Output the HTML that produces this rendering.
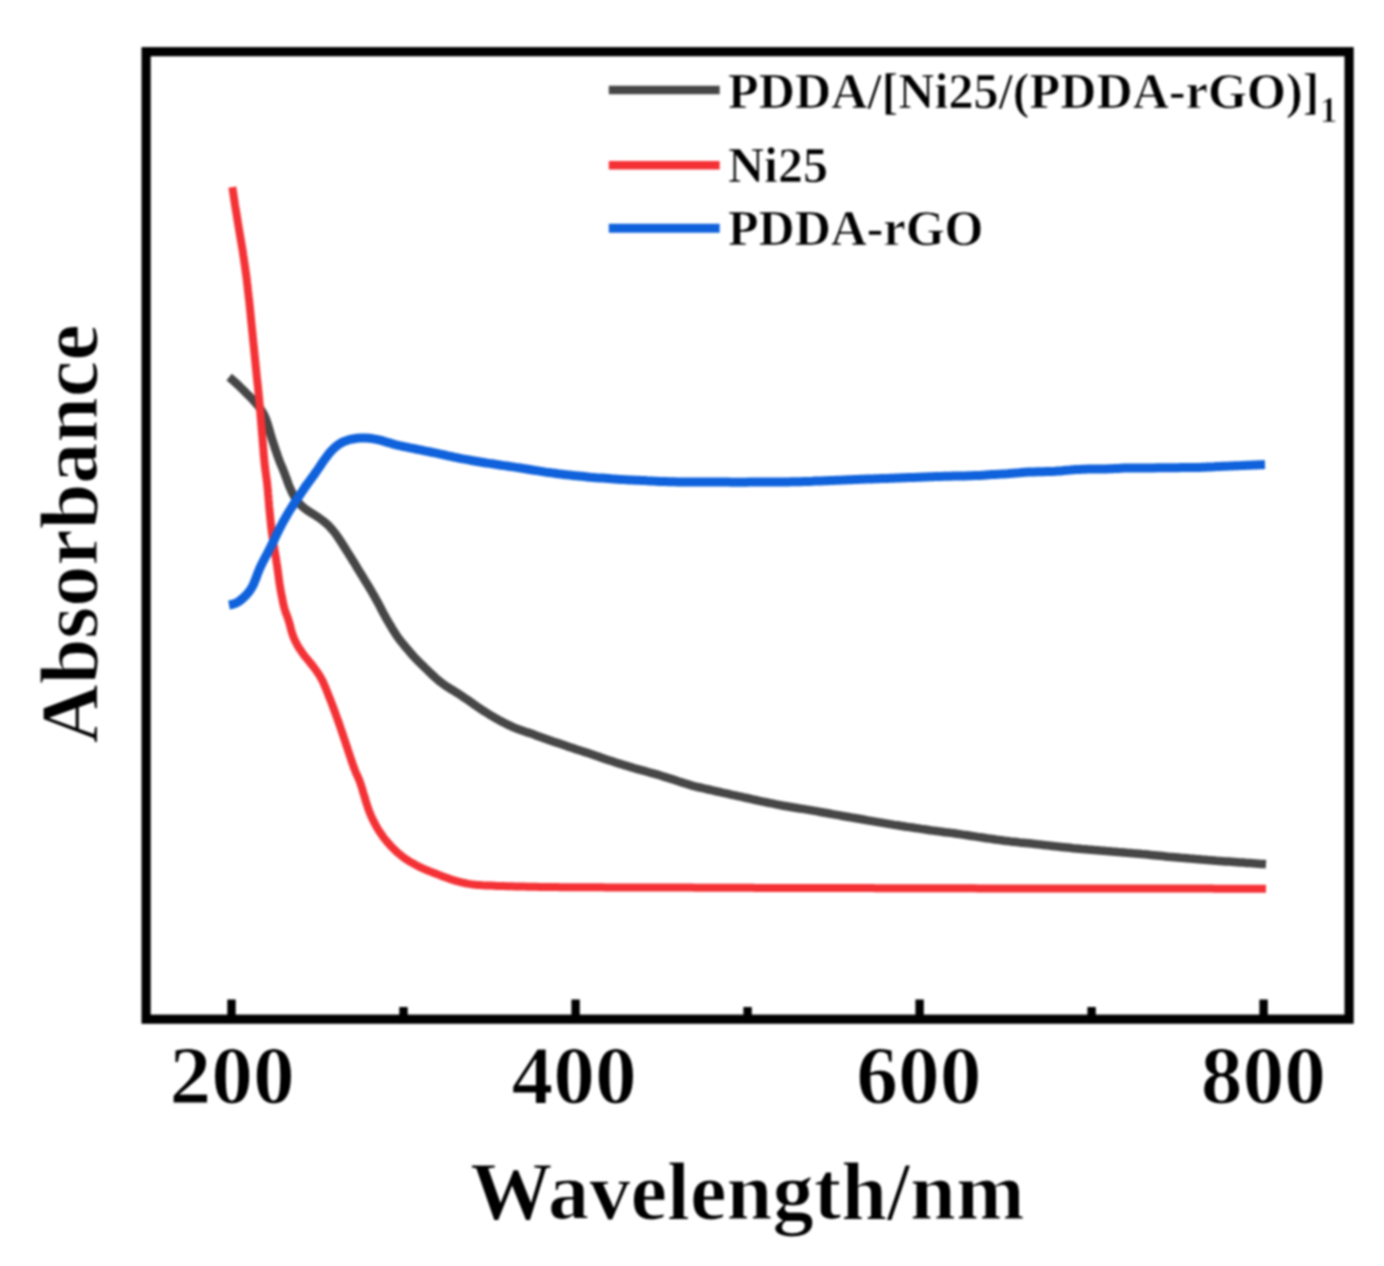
<!DOCTYPE html>
<html><head><meta charset="utf-8"><title>Absorbance vs Wavelength</title><style>
html,body{margin:0;padding:0;background:#fff;width:1384px;height:1266px;overflow:hidden}
svg{display:block}
.t{font-family:"Liberation Serif", serif;font-weight:bold;font-size:83.5px;fill:#000;stroke:#fff;stroke-width:1.2px}
.l{font-family:"Liberation Serif", serif;font-weight:bold;font-size:50px;fill:#000;stroke:#fff;stroke-width:0.72px}
</style></head><body>
<svg width="1384" height="1266" viewBox="0 0 1384 1266">
<defs><filter id="b" x="0" y="0" width="1" height="1" color-interpolation-filters="sRGB"><feGaussianBlur stdDeviation="0.8"/></filter></defs>
<rect x="0" y="0" width="1384" height="1266" fill="#fff"/>
<g filter="url(#b)">
<rect x="0" y="0" width="1384" height="1266" fill="#fff"/>
<g fill="none" stroke-linecap="butt" stroke-linejoin="round">
<path d="M229.1,377.1 L231.4,379.0 L233.7,381.0 L235.9,383.0 L238.1,385.0 L240.2,387.1 L242.4,389.2 L244.5,391.3 L246.6,393.5 L248.8,395.6 L250.9,397.7 L252.9,399.9 L254.9,402.1 L256.9,404.4 L258.8,406.7 L260.6,409.1 L262.2,411.6 L263.7,414.2 L265.0,416.9 L266.1,419.6 L267.1,422.5 L268.0,425.3 L268.9,428.2 L269.7,431.1 L270.5,434.0 L271.4,436.8 L272.2,439.7 L273.2,442.6 L274.1,445.4 L275.0,448.3 L276.0,451.1 L277.0,454.0 L277.9,456.8 L279.0,459.6 L280.0,462.4 L281.2,465.2 L282.4,467.9 L283.5,470.7 L284.6,473.5 L285.6,476.3 L286.7,479.1 L287.7,482.0 L288.7,484.8 L289.9,487.6 L291.1,490.3 L292.3,493.0 L293.7,495.6 L295.3,498.2 L297.0,500.6 L298.8,503.0 L300.9,505.1 L303.1,507.2 L305.4,509.0 L307.8,510.7 L310.3,512.3 L312.9,513.9 L315.4,515.5 L317.9,517.1 L320.4,518.9 L322.8,520.6 L325.1,522.5 L327.4,524.5 L329.5,526.6 L331.5,528.8 L333.4,531.1 L335.3,533.4 L337.0,535.9 L338.7,538.3 L340.4,540.9 L342.0,543.4 L343.6,545.9 L345.2,548.4 L346.8,551.0 L348.4,553.5 L350.0,556.1 L351.6,558.6 L353.2,561.2 L354.8,563.7 L356.3,566.3 L357.9,568.9 L359.4,571.4 L361.0,574.0 L362.6,576.6 L364.1,579.1 L365.7,581.7 L367.3,584.2 L368.8,586.8 L370.4,589.4 L371.9,592.0 L373.4,594.6 L374.9,597.2 L376.3,599.8 L377.8,602.4 L379.2,605.1 L380.6,607.8 L381.9,610.4 L383.3,613.1 L384.8,615.7 L386.2,618.3 L387.7,620.9 L389.2,623.5 L390.8,626.1 L392.3,628.7 L393.9,631.3 L395.5,633.8 L397.1,636.3 L398.9,638.7 L400.7,641.1 L402.6,643.4 L404.5,645.7 L406.4,648.0 L408.4,650.3 L410.3,652.6 L412.3,654.9 L414.3,657.1 L416.4,659.3 L418.5,661.4 L420.6,663.5 L422.8,665.6 L424.9,667.7 L427.1,669.8 L429.2,671.9 L431.4,674.0 L433.6,676.0 L435.8,678.1 L438.0,680.0 L440.3,681.9 L442.7,683.7 L445.2,685.5 L447.7,687.1 L450.2,688.7 L452.8,690.2 L455.4,691.8 L457.9,693.4 L460.4,695.0 L462.9,696.7 L465.4,698.4 L467.9,700.1 L470.3,701.8 L472.8,703.5 L475.2,705.3 L477.7,707.0 L480.2,708.7 L482.7,710.3 L485.2,711.9 L487.8,713.5 L490.3,715.1 L492.9,716.6 L495.5,718.2 L498.1,719.6 L500.7,721.1 L503.4,722.4 L506.1,723.8 L508.8,725.1 L511.5,726.4 L514.2,727.6 L517.0,728.7 L519.8,729.7 L522.7,730.7 L525.5,731.7 L528.3,732.6 L531.2,733.6 L534.0,734.6 L536.8,735.7 L539.7,736.7 L542.5,737.7 L545.3,738.7 L548.1,739.7 L551.0,740.7 L553.8,741.7 L556.6,742.6 L559.5,743.6 L562.3,744.6 L565.2,745.6 L568.0,746.6 L570.9,747.5 L573.7,748.4 L576.6,749.4 L579.4,750.3 L582.3,751.2 L585.1,752.1 L588.0,753.1 L590.8,754.0 L593.7,755.0 L596.5,756.0 L599.4,756.9 L602.2,757.9 L605.0,758.9 L607.9,759.9 L610.7,760.8 L613.6,761.8 L616.4,762.7 L619.3,763.6 L622.2,764.5 L625.0,765.4 L627.9,766.2 L630.8,767.1 L633.7,768.0 L636.5,768.8 L639.4,769.6 L642.3,770.4 L645.2,771.2 L648.1,772.0 L651.0,772.8 L653.9,773.6 L656.8,774.4 L659.7,775.3 L662.5,776.2 L665.4,777.1 L668.2,778.0 L671.1,778.9 L674.0,779.8 L676.8,780.8 L679.7,781.7 L682.5,782.6 L685.4,783.5 L688.3,784.4 L691.1,785.3 L694.0,786.1 L696.9,786.8 L699.9,787.5 L702.8,788.2 L705.7,788.8 L708.6,789.5 L711.6,790.2 L714.5,790.8 L717.4,791.5 L720.4,792.1 L723.3,792.8 L726.2,793.4 L729.1,794.1 L732.1,794.8 L735.0,795.4 L737.9,796.1 L740.9,796.7 L743.8,797.4 L746.7,798.0 L749.7,798.7 L752.6,799.4 L755.5,800.0 L758.4,800.7 L761.4,801.3 L764.3,801.9 L767.3,802.5 L770.2,803.1 L773.1,803.7 L776.1,804.3 L779.0,804.9 L782.0,805.5 L784.9,806.0 L787.9,806.5 L790.8,807.0 L793.8,807.5 L796.8,808.0 L799.7,808.5 L802.7,808.9 L805.7,809.4 L808.6,809.9 L811.6,810.4 L814.5,810.9 L817.5,811.4 L820.5,812.0 L823.4,812.5 L826.4,813.0 L829.3,813.5 L832.3,814.1 L835.2,814.6 L838.2,815.1 L841.2,815.7 L844.1,816.2 L847.1,816.7 L850.0,817.2 L853.0,817.8 L855.9,818.3 L858.9,818.8 L861.8,819.3 L864.8,819.8 L867.8,820.4 L870.7,820.9 L873.7,821.4 L876.6,821.9 L879.6,822.4 L882.6,822.9 L885.5,823.4 L888.5,823.9 L891.4,824.4 L894.4,824.9 L897.4,825.3 L900.3,825.8 L903.3,826.2 L906.3,826.7 L909.3,827.1 L912.2,827.5 L915.2,828.0 L918.2,828.4 L921.1,828.9 L924.1,829.3 L927.1,829.7 L930.0,830.2 L933.0,830.6 L936.0,831.0 L939.0,831.4 L941.9,831.8 L944.9,832.2 L947.9,832.5 L950.9,832.9 L953.9,833.3 L956.8,833.7 L959.8,834.1 L962.8,834.6 L965.7,835.0 L968.7,835.5 L971.7,836.0 L974.6,836.4 L977.6,836.9 L980.6,837.3 L983.6,837.7 L986.5,838.2 L989.5,838.6 L992.5,839.0 L995.4,839.5 L998.4,839.9 L1001.4,840.3 L1004.4,840.7 L1007.3,841.0 L1010.3,841.4 L1013.3,841.7 L1016.3,842.0 L1019.3,842.4 L1022.3,842.7 L1025.3,843.0 L1028.2,843.3 L1031.2,843.6 L1034.2,843.9 L1037.2,844.3 L1040.2,844.6 L1043.2,844.9 L1046.1,845.2 L1049.1,845.6 L1052.1,845.9 L1055.1,846.2 L1058.1,846.6 L1061.1,846.9 L1064.1,847.2 L1067.0,847.5 L1070.0,847.8 L1073.0,848.2 L1076.0,848.4 L1079.0,848.7 L1082.0,849.0 L1085.0,849.2 L1088.0,849.5 L1091.0,849.7 L1094.0,850.0 L1096.9,850.2 L1099.9,850.5 L1102.9,850.7 L1105.9,851.0 L1108.9,851.2 L1111.9,851.5 L1114.9,851.7 L1117.9,852.0 L1120.9,852.2 L1123.9,852.5 L1126.9,852.8 L1129.9,853.0 L1132.8,853.3 L1135.8,853.5 L1138.8,853.8 L1141.8,854.1 L1144.8,854.3 L1147.8,854.6 L1150.8,854.9 L1153.8,855.2 L1156.8,855.5 L1159.7,855.8 L1162.7,856.1 L1165.7,856.4 L1168.7,856.7 L1171.7,856.9 L1174.7,857.2 L1177.7,857.5 L1180.7,857.8 L1183.7,858.0 L1186.7,858.3 L1189.6,858.6 L1192.6,858.8 L1195.6,859.1 L1198.6,859.3 L1201.6,859.6 L1204.6,859.8 L1207.6,860.1 L1210.6,860.3 L1213.6,860.5 L1216.6,860.8 L1219.6,861.0 L1222.6,861.2 L1225.6,861.4 L1228.6,861.6 L1231.6,861.8 L1234.5,862.0 L1237.5,862.2 L1240.5,862.4 L1243.5,862.6 L1246.5,862.9 L1249.5,863.1 L1252.5,863.3 L1255.5,863.5 L1258.5,863.7 L1261.5,863.9 L1264.5,864.1 L1266.0,864.2" stroke="#464646" stroke-width="8.5"/>
<path d="M232.4,187.1 L232.8,190.1 L233.3,193.0 L233.7,196.0 L234.1,199.0 L234.6,202.0 L235.0,204.9 L235.5,207.9 L236.0,210.9 L236.5,213.8 L237.0,216.8 L237.4,219.7 L237.9,222.7 L238.4,225.7 L238.9,228.6 L239.4,231.6 L239.9,234.5 L240.4,237.5 L240.9,240.5 L241.4,243.4 L241.9,246.4 L242.4,249.4 L242.9,252.3 L243.3,255.3 L243.8,258.3 L244.2,261.2 L244.6,264.2 L245.1,267.2 L245.5,270.1 L245.9,273.1 L246.3,276.1 L246.7,279.1 L247.0,282.0 L247.4,285.0 L247.7,288.0 L248.0,291.0 L248.4,294.0 L248.7,297.0 L249.1,299.9 L249.4,302.9 L249.7,305.9 L250.0,308.9 L250.3,311.9 L250.6,314.9 L250.9,317.9 L251.2,320.9 L251.5,323.8 L251.8,326.8 L252.1,329.8 L252.4,332.8 L252.7,335.8 L253.0,338.8 L253.3,341.8 L253.6,344.8 L253.9,347.7 L254.2,350.7 L254.5,353.7 L254.8,356.7 L255.1,359.7 L255.4,362.7 L255.7,365.7 L256.0,368.7 L256.3,371.6 L256.6,374.6 L256.9,377.6 L257.2,380.6 L257.6,383.6 L257.9,386.6 L258.2,389.6 L258.5,392.5 L258.8,395.5 L259.1,398.5 L259.4,401.5 L259.6,404.5 L259.9,407.5 L260.1,410.5 L260.4,413.5 L260.6,416.5 L260.9,419.5 L261.1,422.4 L261.4,425.4 L261.6,428.4 L261.9,431.4 L262.1,434.4 L262.4,437.4 L262.6,440.4 L262.9,443.4 L263.1,446.4 L263.4,449.4 L263.6,452.4 L263.8,455.4 L264.1,458.4 L264.4,461.3 L264.7,464.3 L265.0,467.3 L265.4,470.3 L265.8,473.3 L266.2,476.2 L266.6,479.2 L267.0,482.2 L267.3,485.2 L267.6,488.2 L267.9,491.1 L268.1,494.1 L268.4,497.1 L268.6,500.1 L268.9,503.1 L269.1,506.1 L269.4,509.1 L269.7,512.1 L270.0,515.1 L270.3,518.1 L270.6,521.1 L270.9,524.0 L271.2,527.0 L271.6,530.0 L271.9,533.0 L272.4,536.0 L272.8,538.9 L273.3,541.9 L273.7,544.9 L274.2,547.8 L274.7,550.8 L275.2,553.7 L275.7,556.7 L276.2,559.7 L276.6,562.6 L277.1,565.6 L277.5,568.6 L277.9,571.5 L278.3,574.5 L278.7,577.5 L279.1,580.5 L279.5,583.4 L280.0,586.4 L280.5,589.4 L281.0,592.3 L281.6,595.3 L282.2,598.2 L282.8,601.2 L283.4,604.1 L284.1,607.0 L284.9,609.9 L285.8,612.7 L286.9,615.5 L287.9,618.3 L288.8,621.1 L289.7,624.0 L290.4,626.9 L291.1,629.8 L292.0,632.7 L292.9,635.5 L294.0,638.3 L295.2,641.0 L296.6,643.7 L298.0,646.3 L299.6,648.8 L301.3,651.3 L303.0,653.8 L304.8,656.2 L306.7,658.5 L308.6,660.8 L310.5,663.1 L312.4,665.4 L314.2,667.8 L316.0,670.2 L317.7,672.7 L319.3,675.2 L320.9,677.8 L322.3,680.4 L323.6,683.1 L324.7,685.9 L325.9,688.6 L327.0,691.4 L328.1,694.2 L329.2,697.0 L330.3,699.8 L331.4,702.6 L332.5,705.4 L333.5,708.2 L334.6,711.0 L335.6,713.8 L336.6,716.7 L337.6,719.5 L338.7,722.3 L339.6,725.2 L340.6,728.0 L341.6,730.8 L342.5,733.7 L343.5,736.5 L344.4,739.4 L345.4,742.2 L346.3,745.1 L347.3,747.9 L348.2,750.8 L349.2,753.6 L350.1,756.5 L351.1,759.3 L352.0,762.2 L353.0,765.0 L354.0,767.8 L355.1,770.6 L356.2,773.4 L357.5,776.1 L358.7,778.9 L359.8,781.6 L360.8,784.5 L361.7,787.3 L362.6,790.2 L363.4,793.1 L364.3,795.9 L365.1,798.8 L366.0,801.7 L366.9,804.6 L367.8,807.4 L368.8,810.2 L369.9,813.0 L371.0,815.8 L372.3,818.5 L373.6,821.2 L375.0,823.9 L376.4,826.5 L377.9,829.1 L379.5,831.6 L381.2,834.1 L382.9,836.6 L384.7,838.9 L386.6,841.3 L388.6,843.5 L390.6,845.7 L392.7,847.9 L394.8,850.0 L397.0,852.1 L399.3,854.0 L401.6,855.9 L404.0,857.7 L406.4,859.4 L409.0,861.1 L411.5,862.6 L414.2,864.1 L416.8,865.5 L419.5,866.8 L422.2,868.1 L424.9,869.3 L427.7,870.5 L430.5,871.6 L433.3,872.7 L436.1,873.8 L438.9,874.9 L441.7,876.0 L444.5,877.1 L447.3,878.1 L450.1,879.1 L453.0,880.0 L455.8,880.9 L458.7,881.6 L461.6,882.4 L464.6,883.0 L467.5,883.6 L470.5,884.1 L473.4,884.5 L476.4,884.9 L479.4,885.1 L482.4,885.3 L485.4,885.4 L488.4,885.5 L491.4,885.6 L494.4,885.7 L497.4,885.9 L500.4,886.0 L503.4,886.1 L506.4,886.2 L509.4,886.3 L512.4,886.3 L515.4,886.4 L518.4,886.5 L521.4,886.6 L524.4,886.6 L527.4,886.7 L530.4,886.7 L533.4,886.8 L536.4,886.8 L539.4,886.9 L542.4,886.9 L545.4,887.0 L548.4,887.0 L551.4,887.1 L554.4,887.1 L557.4,887.1 L560.4,887.2 L563.4,887.2 L566.4,887.2 L569.4,887.2 L572.4,887.2 L575.4,887.3 L578.4,887.3 L581.4,887.3 L584.4,887.3 L587.4,887.3 L590.5,887.3 L593.5,887.3 L596.5,887.3 L599.5,887.3 L602.5,887.3 L605.5,887.4 L608.5,887.4 L611.5,887.4 L614.5,887.4 L617.5,887.4 L620.5,887.4 L623.5,887.4 L626.5,887.4 L629.5,887.4 L632.5,887.4 L635.5,887.5 L638.5,887.5 L641.5,887.5 L644.5,887.5 L647.5,887.5 L650.5,887.5 L653.5,887.5 L656.5,887.5 L659.5,887.5 L662.5,887.5 L665.5,887.6 L668.5,887.6 L671.5,887.6 L674.5,887.6 L677.5,887.6 L680.5,887.6 L683.5,887.6 L686.5,887.6 L689.5,887.6 L692.5,887.6 L695.5,887.7 L698.5,887.7 L701.5,887.7 L704.5,887.7 L707.5,887.7 L710.5,887.7 L713.6,887.7 L716.6,887.7 L719.6,887.7 L722.6,887.7 L725.6,887.8 L728.6,887.8 L731.6,887.8 L734.6,887.8 L737.6,887.8 L740.6,887.8 L743.6,887.8 L746.6,887.8 L749.6,887.8 L752.6,887.8 L755.6,887.9 L758.6,887.9 L761.6,887.9 L764.6,887.9 L767.6,887.9 L770.6,887.9 L773.6,887.9 L776.6,887.9 L779.6,887.9 L782.6,887.9 L785.6,888.0 L788.6,888.0 L791.6,888.0 L794.6,888.0 L797.6,888.0 L800.6,888.0 L803.6,888.0 L806.6,888.0 L809.6,888.0 L812.6,888.0 L815.6,888.0 L818.6,888.0 L821.6,888.0 L824.6,888.0 L827.6,888.1 L830.6,888.1 L833.6,888.1 L836.7,888.1 L839.7,888.1 L842.7,888.1 L845.7,888.1 L848.7,888.1 L851.7,888.1 L854.7,888.1 L857.7,888.1 L860.7,888.1 L863.7,888.1 L866.7,888.1 L869.7,888.1 L872.7,888.1 L875.7,888.2 L878.7,888.2 L881.7,888.2 L884.7,888.2 L887.7,888.2 L890.7,888.2 L893.7,888.2 L896.7,888.2 L899.7,888.2 L902.7,888.2 L905.7,888.2 L908.7,888.2 L911.7,888.2 L914.7,888.2 L917.7,888.2 L920.7,888.2 L923.7,888.2 L926.7,888.3 L929.7,888.3 L932.7,888.3 L935.7,888.3 L938.7,888.3 L941.7,888.3 L944.7,888.3 L947.7,888.3 L950.7,888.3 L953.7,888.3 L956.7,888.3 L959.8,888.3 L962.8,888.3 L965.8,888.3 L968.8,888.3 L971.8,888.3 L974.8,888.3 L977.8,888.4 L980.8,888.4 L983.8,888.4 L986.8,888.4 L989.8,888.4 L992.8,888.4 L995.8,888.4 L998.8,888.4 L1001.8,888.4 L1004.8,888.4 L1007.8,888.4 L1010.8,888.4 L1013.8,888.4 L1016.8,888.4 L1019.8,888.4 L1022.8,888.4 L1025.8,888.5 L1028.8,888.5 L1031.8,888.5 L1034.8,888.5 L1037.8,888.5 L1040.8,888.5 L1043.8,888.5 L1046.8,888.5 L1049.8,888.5 L1052.8,888.5 L1055.8,888.5 L1058.8,888.5 L1061.8,888.5 L1064.8,888.5 L1067.8,888.5 L1070.8,888.5 L1073.8,888.5 L1076.8,888.5 L1079.8,888.5 L1082.9,888.5 L1085.9,888.5 L1088.9,888.5 L1091.9,888.5 L1094.9,888.5 L1097.9,888.5 L1100.9,888.5 L1103.9,888.5 L1106.9,888.6 L1109.9,888.6 L1112.9,888.6 L1115.9,888.6 L1118.9,888.6 L1121.9,888.6 L1124.9,888.6 L1127.9,888.6 L1130.9,888.6 L1133.9,888.6 L1136.9,888.6 L1139.9,888.6 L1142.9,888.6 L1145.9,888.6 L1148.9,888.6 L1151.9,888.6 L1154.9,888.6 L1157.9,888.6 L1160.9,888.6 L1163.9,888.6 L1166.9,888.6 L1169.9,888.6 L1172.9,888.6 L1175.9,888.6 L1178.9,888.6 L1181.9,888.6 L1184.9,888.6 L1187.9,888.6 L1190.9,888.6 L1193.9,888.6 L1196.9,888.6 L1199.9,888.6 L1202.9,888.6 L1206.0,888.6 L1209.0,888.6 L1212.0,888.6 L1215.0,888.7 L1218.0,888.7 L1221.0,888.7 L1224.0,888.7 L1227.0,888.7 L1230.0,888.7 L1233.0,888.7 L1236.0,888.7 L1239.0,888.7 L1242.0,888.7 L1245.0,888.7 L1248.0,888.7 L1251.0,888.7 L1254.0,888.7 L1257.0,888.7 L1260.0,888.7 L1263.0,888.7 L1266.0,888.7" stroke="#f43236" stroke-width="8"/>
<path d="M229.0,605.0 L231.8,604.5 L234.6,603.7 L237.2,602.5 L239.6,600.9 L241.9,599.1 L244.1,597.1 L246.2,595.0 L248.2,592.8 L250.0,590.4 L251.6,587.9 L253.0,585.3 L254.2,582.6 L255.3,579.8 L256.4,577.0 L257.4,574.2 L258.5,571.4 L259.7,568.6 L260.9,565.9 L262.2,563.2 L263.6,560.5 L265.0,557.9 L266.4,555.2 L267.8,552.5 L269.1,549.9 L270.5,547.2 L271.8,544.5 L273.2,541.8 L274.5,539.1 L275.8,536.4 L277.0,533.7 L278.4,531.0 L279.7,528.3 L281.1,525.7 L282.5,523.0 L283.9,520.4 L285.4,517.8 L286.9,515.2 L288.4,512.6 L290.0,510.0 L291.6,507.5 L293.2,505.0 L294.8,502.4 L296.5,499.9 L298.1,497.4 L299.8,494.9 L301.5,492.5 L303.2,490.0 L304.8,487.5 L306.6,485.0 L308.3,482.6 L310.1,480.2 L311.9,477.8 L313.7,475.4 L315.4,472.9 L317.1,470.5 L318.8,468.0 L320.5,465.5 L322.1,463.0 L323.8,460.5 L325.6,458.1 L327.4,455.7 L329.2,453.3 L331.2,451.1 L333.3,448.9 L335.5,446.9 L337.8,445.1 L340.2,443.5 L342.8,442.0 L345.6,440.9 L348.4,439.9 L351.3,439.2 L354.2,438.7 L357.1,438.3 L360.1,438.1 L363.1,438.0 L366.1,438.1 L369.1,438.3 L372.1,438.6 L375.0,439.1 L377.9,439.7 L380.9,440.4 L383.7,441.2 L386.6,442.1 L389.5,442.9 L392.4,443.8 L395.2,444.6 L398.2,445.3 L401.1,446.0 L404.0,446.6 L406.9,447.2 L409.9,447.8 L412.8,448.4 L415.8,449.0 L418.7,449.6 L421.6,450.2 L424.6,450.8 L427.5,451.4 L430.5,452.0 L433.4,452.6 L436.4,453.2 L439.3,453.8 L442.2,454.5 L445.1,455.1 L448.1,455.8 L451.0,456.4 L453.9,457.1 L456.9,457.7 L459.8,458.3 L462.8,458.9 L465.7,459.4 L468.7,459.9 L471.6,460.5 L474.6,461.0 L477.5,461.5 L480.5,462.0 L483.4,462.5 L486.4,463.0 L489.4,463.4 L492.3,463.8 L495.3,464.3 L498.3,464.7 L501.2,465.2 L504.2,465.6 L507.2,466.0 L510.1,466.5 L513.1,466.9 L516.1,467.4 L519.0,467.8 L522.0,468.3 L525.0,468.7 L527.9,469.2 L530.9,469.7 L533.9,470.2 L536.8,470.6 L539.8,471.1 L542.8,471.6 L545.7,472.1 L548.7,472.5 L551.7,472.9 L554.6,473.3 L557.6,473.7 L560.6,474.1 L563.6,474.4 L566.5,474.7 L569.5,475.1 L572.5,475.4 L575.5,475.7 L578.5,476.0 L581.5,476.3 L584.5,476.6 L587.4,476.9 L590.4,477.2 L593.4,477.4 L596.4,477.7 L599.4,477.9 L602.4,478.1 L605.4,478.3 L608.4,478.5 L611.4,478.8 L614.4,479.0 L617.4,479.2 L620.4,479.4 L623.4,479.6 L626.3,479.7 L629.3,479.9 L632.3,480.0 L635.3,480.2 L638.3,480.3 L641.3,480.5 L644.3,480.6 L647.3,480.8 L650.3,480.9 L653.3,481.1 L656.3,481.2 L659.3,481.4 L662.3,481.5 L665.3,481.6 L668.3,481.7 L671.3,481.8 L674.3,481.8 L677.3,481.9 L680.3,481.9 L683.3,481.9 L686.3,481.9 L689.3,481.9 L692.3,481.9 L695.3,482.0 L698.3,482.0 L701.3,482.0 L704.3,482.0 L707.3,482.0 L710.3,482.0 L713.3,482.1 L716.3,482.1 L719.3,482.1 L722.3,482.1 L725.3,482.1 L728.3,482.1 L731.3,482.2 L734.3,482.2 L737.3,482.2 L740.3,482.2 L743.3,482.2 L746.3,482.2 L749.3,482.1 L752.3,482.1 L755.3,482.1 L758.3,482.1 L761.3,482.1 L764.3,482.0 L767.3,482.0 L770.3,482.0 L773.3,482.0 L776.3,482.0 L779.3,481.9 L782.3,481.9 L785.3,481.9 L788.3,481.9 L791.3,481.8 L794.3,481.8 L797.3,481.8 L800.3,481.7 L803.3,481.6 L806.3,481.5 L809.3,481.4 L812.3,481.3 L815.3,481.1 L818.3,481.0 L821.3,480.9 L824.3,480.8 L827.3,480.7 L830.3,480.5 L833.3,480.4 L836.3,480.3 L839.3,480.2 L842.3,480.1 L845.3,479.9 L848.3,479.8 L851.3,479.7 L854.3,479.6 L857.3,479.5 L860.3,479.3 L863.3,479.2 L866.3,479.1 L869.3,479.0 L872.3,478.9 L875.3,478.8 L878.3,478.7 L881.3,478.6 L884.3,478.5 L887.3,478.4 L890.3,478.3 L893.3,478.2 L896.3,478.1 L899.3,478.0 L902.3,477.8 L905.3,477.7 L908.3,477.6 L911.3,477.5 L914.3,477.4 L917.3,477.3 L920.3,477.2 L923.3,477.0 L926.3,476.9 L929.3,476.8 L932.3,476.7 L935.3,476.6 L938.3,476.5 L941.3,476.4 L944.3,476.3 L947.3,476.2 L950.3,476.2 L953.3,476.1 L956.3,476.0 L959.3,476.0 L962.3,475.9 L965.3,475.9 L968.3,475.8 L971.3,475.7 L974.3,475.6 L977.3,475.5 L980.3,475.4 L983.3,475.2 L986.2,475.0 L989.2,474.8 L992.2,474.6 L995.2,474.4 L998.2,474.2 L1001.2,474.1 L1004.2,473.9 L1007.2,473.7 L1010.2,473.4 L1013.2,473.2 L1016.2,473.0 L1019.2,472.8 L1022.2,472.5 L1025.2,472.3 L1028.2,472.1 L1031.2,472.0 L1034.2,471.9 L1037.2,471.8 L1040.1,471.7 L1043.1,471.7 L1046.1,471.6 L1049.1,471.5 L1052.1,471.4 L1055.1,471.3 L1058.1,471.1 L1061.1,470.9 L1064.1,470.6 L1067.1,470.3 L1070.1,470.1 L1073.1,469.8 L1076.1,469.6 L1079.1,469.4 L1082.1,469.2 L1085.1,469.2 L1088.1,469.1 L1091.1,469.1 L1094.1,469.1 L1097.1,469.1 L1100.1,469.1 L1103.1,469.0 L1106.1,468.9 L1109.1,468.8 L1112.0,468.7 L1115.0,468.5 L1118.0,468.4 L1121.0,468.2 L1124.0,468.1 L1127.0,468.0 L1130.0,467.9 L1133.0,467.9 L1136.0,467.9 L1139.0,467.9 L1142.0,467.9 L1145.0,467.9 L1148.0,467.9 L1151.0,467.9 L1154.0,467.9 L1157.0,467.8 L1160.0,467.8 L1163.0,467.8 L1166.0,467.8 L1169.0,467.7 L1172.0,467.7 L1175.0,467.7 L1178.0,467.7 L1181.0,467.6 L1184.0,467.6 L1187.0,467.6 L1190.0,467.6 L1193.0,467.5 L1196.0,467.5 L1199.0,467.4 L1202.0,467.3 L1205.0,467.2 L1208.0,467.0 L1211.0,466.9 L1214.0,466.8 L1217.0,466.6 L1220.0,466.5 L1223.0,466.3 L1226.0,466.2 L1229.0,466.1 L1232.0,465.9 L1235.0,465.8 L1238.0,465.7 L1241.0,465.6 L1244.0,465.4 L1247.0,465.3 L1250.0,465.2 L1253.0,465.1 L1256.0,465.0 L1259.0,464.8 L1262.0,464.7 L1265.0,464.6" stroke="#0f62dc" stroke-width="9"/>
</g>
<line x1="231.5" y1="999.5" x2="231.5" y2="1016" stroke="#000" stroke-width="8.4"/>
<line x1="575.6" y1="999.5" x2="575.6" y2="1016" stroke="#000" stroke-width="8.4"/>
<line x1="919.6" y1="999.5" x2="919.6" y2="1016" stroke="#000" stroke-width="8.4"/>
<line x1="1263.6" y1="999.5" x2="1263.6" y2="1016" stroke="#000" stroke-width="8.4"/>
<line x1="403.5" y1="1007" x2="403.5" y2="1016" stroke="#000" stroke-width="8.4"/>
<line x1="747.6" y1="1007" x2="747.6" y2="1016" stroke="#000" stroke-width="8.4"/>
<line x1="1091.6" y1="1007" x2="1091.6" y2="1016" stroke="#000" stroke-width="8.4"/>
<rect x="146.1" y="51.7" width="1203" height="967.5" fill="none" stroke="#000" stroke-width="9.2"/>
<text x="232.2" y="1102.5" text-anchor="middle" class="t">200</text>
<text x="574.2" y="1102.5" text-anchor="middle" class="t">400</text>
<text x="918.9" y="1102.5" text-anchor="middle" class="t">600</text>
<text x="1263.4" y="1102.5" text-anchor="middle" class="t">800</text>
<text x="470" y="1218.5" class="t" style="font-size:82.5px">Wavelength/nm</text>
<text transform="translate(97,743.5) rotate(-90)" class="t" style="font-size:82px">Absorbance</text>
<line x1="608.8" y1="90" x2="719.7" y2="90" stroke="#464646" stroke-width="8.5"/>
<line x1="608.8" y1="165.2" x2="719.7" y2="165.2" stroke="#f43236" stroke-width="8.4"/>
<line x1="608.8" y1="228.3" x2="719.7" y2="228.3" stroke="#0f62dc" stroke-width="8.9"/>
<text x="728" y="108" class="l" textLength="591.5" lengthAdjust="spacing">PDDA/[Ni25/(PDDA-rGO)]</text>
<text x="1320" y="121.8" class="l" style="font-size:35px">1</text>
<text x="728" y="181.5" class="l">Ni25</text>
<text x="728" y="245" class="l">PDDA-rGO</text>
</g>
</svg>
</body></html>
